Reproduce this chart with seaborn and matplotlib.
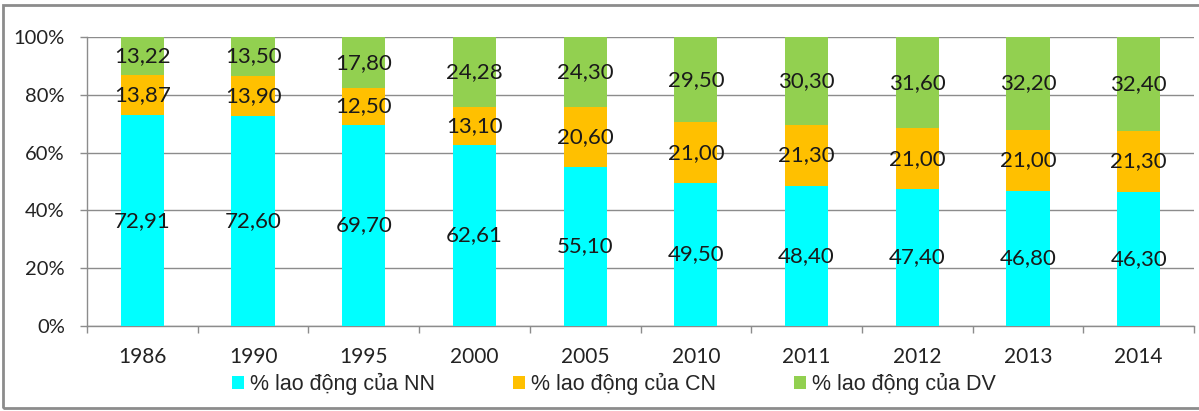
import matplotlib
matplotlib.use("Agg")
import matplotlib.pyplot as plt
import seaborn as sns
import pandas as pd
import numpy as np
from matplotlib.patches import Patch, Rectangle

years = ["1986", "1990", "1995", "2000", "2005", "2010", "2011", "2012", "2013", "2014"]
nn = [72.91, 72.60, 69.70, 62.61, 55.10, 49.50, 48.40, 47.40, 46.80, 46.30]
cn = [13.87, 13.90, 12.50, 13.10, 20.60, 21.00, 21.30, 21.00, 21.00, 21.30]
dv = [13.22, 13.50, 17.80, 24.28, 24.30, 29.50, 30.30, 31.60, 32.20, 32.40]
series_names = ["% lao động của NN", "% lao động của CN", "% lao động của DV"]
colors = ["#00FFFF", "#FFC000", "#92D050"]

sns.set_theme(style="white")
plt.rcParams['font.family'] = ['Liberation Sans', 'DejaVu Sans']

df = pd.DataFrame({"year": years, "nn": nn, "cn": cn, "dv": dv})
tot = df[["nn", "cn", "dv"]].sum(axis=1)
df["p_nn"] = df["nn"] / tot * 100
df["p_cn"] = df["cn"] / tot * 100
df["p_dv"] = df["dv"] / tot * 100
df["c1"] = df["p_nn"]
df["c2"] = df["p_nn"] + df["p_cn"]
df["c3"] = df["c2"] + df["p_dv"]

fig = plt.figure(figsize=(11.99, 4.11), dpi=100)
ax = fig.add_axes([87/1199, 1-326/411, (1194-87)/1199, (326-37)/411])

bw = 0.39
sns.barplot(data=df, x="year", y="c3", color=colors[2], saturation=1, width=bw, ax=ax, zorder=3)
sns.barplot(data=df, x="year", y="c2", color=colors[1], saturation=1, width=bw, ax=ax, zorder=3)
sns.barplot(data=df, x="year", y="c1", color=colors[0], saturation=1, width=bw, ax=ax, zorder=3)
for p in ax.patches:
    p.set_linewidth(0)

num_fam = ['Lato', 'DejaVu Sans']
lab_font = dict(family=num_fam, fontsize=16, color="#1a1a1a", ha="center", va="center", zorder=5)
for i in range(len(years)):
    ax.text(i, df["c1"][i] / 2, f"{nn[i]:.2f}".replace(".", ","), **lab_font)
    ax.text(i, (df["c1"][i] + df["c2"][i]) / 2, f"{cn[i]:.2f}".replace(".", ","), **lab_font)
    ax.text(i, (df["c2"][i] + df["c3"][i]) / 2, f"{dv[i]:.2f}".replace(".", ","), **lab_font)

ax.set_ylim(0, 100)
ax.set_xlim(-0.5, len(years) - 0.5)
ax.set_yticks([0, 20, 40, 60, 80, 100])
ax.set_yticklabels([f"{v}%" for v in [0, 20, 40, 60, 80, 100]], family=num_fam, fontsize=14.5, color="#222222")
ax.set_xticks(range(len(years)))
ax.set_xticklabels(years, family=num_fam, fontsize=15, color="#222222")
ax.set_xticks(np.arange(-0.5, len(years), 1), minor=True)
ax.tick_params(axis="x", which="major", length=0, pad=15)
ax.tick_params(axis="x", which="minor", length=5, width=1, color="#8c8c8c", direction="out", bottom=True)
ax.tick_params(axis="y", which="major", length=5, width=1, color="#8c8c8c", direction="out", left=True, pad=11)
ax.set_xlabel("")
ax.set_ylabel("")
ax.grid(axis="y", color="#8c8c8c", linewidth=1, zorder=0)
ax.set_axisbelow(True)
for s in ["top", "right"]:
    ax.spines[s].set_visible(False)
for s in ["left", "bottom"]:
    ax.spines[s].set_color("#8c8c8c")
    ax.spines[s].set_linewidth(1)

handles = [Patch(facecolor=c, edgecolor="none") for c in colors]
fig.legend(handles, series_names, loc="center", bbox_to_anchor=(614/1199, 1-384/411), ncol=3,
           frameon=False, handlelength=0.55, handleheight=0.55, handletextpad=0.3,
           columnspacing=3.6, prop={'family': ['Liberation Sans', 'DejaVu Sans'], 'size': 15.5})

fig.patches.append(Rectangle((3/1199, 3/411), 1.0, 1-8/411, transform=fig.transFigure,
                             fill=False, edgecolor="#8c8c8c", linewidth=2))

fig.savefig("out.png", dpi=100, facecolor="white")
